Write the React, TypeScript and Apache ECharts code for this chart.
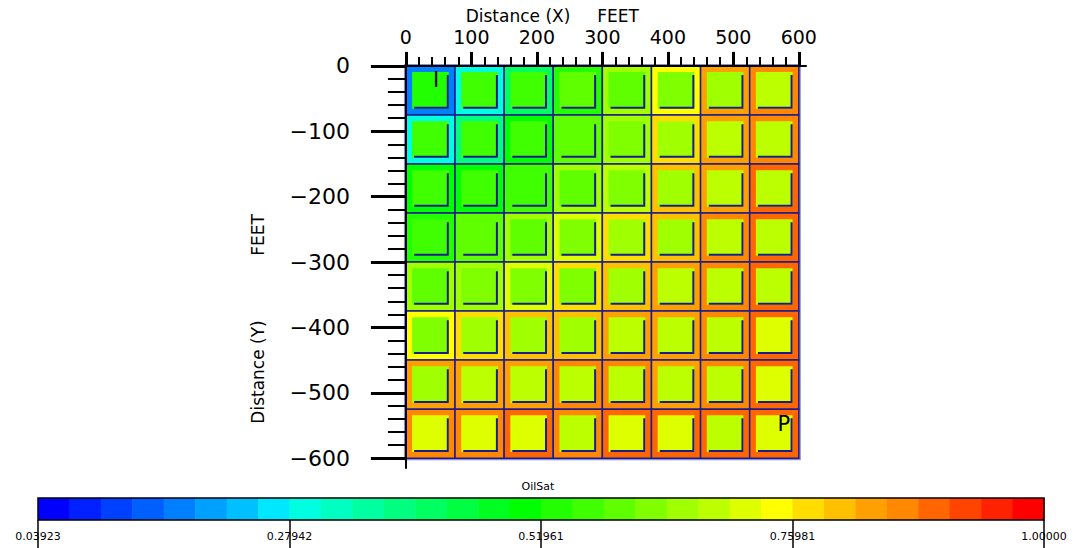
import React, { useEffect, useRef } from "react";
import * as echarts from "echarts";

// ---- data ----
const cellSize = 75; // feet per cell
const xMajorTicks = [0, 100, 200, 300, 400, 500, 600];
const yMajorTicks = [0, -100, -200, -300, -400, -500, -600];
const colorbarTicks = [0.03923, 0.27942, 0.51961, 0.75981, 1.0];
const colorbarLabels = ["0.03923", "0.27942", "0.51961", "0.75981", "1.00000"];
const valueMin = 0.03923;
const valueMax = 1.0;

// cell (outer) values, rows top (y=0) to bottom (y=-600), cols left to right
const outerValues = [
  [0.17, 0.30, 0.41, 0.53, 0.65, 0.74, 0.83, 0.86],
  [0.29, 0.38, 0.50, 0.59, 0.65, 0.77, 0.83, 0.86],
  [0.50, 0.49, 0.56, 0.65, 0.69, 0.80, 0.83, 0.89],
  [0.53, 0.59, 0.65, 0.72, 0.77, 0.80, 0.86, 0.89],
  [0.65, 0.66, 0.71, 0.77, 0.80, 0.83, 0.86, 0.89],
  [0.74, 0.77, 0.80, 0.81, 0.83, 0.84, 0.86, 0.89],
  [0.83, 0.84, 0.84, 0.86, 0.85, 0.84, 0.87, 0.89],
  [0.86, 0.87, 0.89, 0.87, 0.88, 0.89, 0.89, 0.90],
];
// inner square values
const innerValues = [
  [0.53, 0.56, 0.57, 0.59, 0.60, 0.62, 0.65, 0.68],
  [0.56, 0.57, 0.57, 0.59, 0.62, 0.65, 0.68, 0.68],
  [0.56, 0.57, 0.57, 0.59, 0.62, 0.65, 0.68, 0.68],
  [0.57, 0.59, 0.60, 0.62, 0.65, 0.65, 0.68, 0.68],
  [0.59, 0.62, 0.62, 0.62, 0.65, 0.68, 0.68, 0.68],
  [0.62, 0.65, 0.65, 0.65, 0.68, 0.68, 0.68, 0.71],
  [0.65, 0.68, 0.68, 0.68, 0.68, 0.68, 0.68, 0.71],
  [0.71, 0.71, 0.71, 0.68, 0.71, 0.71, 0.68, 0.71],
];
// well markers
const wellNames = ["I", "P"];
const wellX = [46, 577];
const wellY = [-22, -547];

// ---- styles ----
const palette = [
  "#0000ff", "#0020ff", "#0040ff", "#0060ff", "#0080ff", "#00a0ff", "#00c0ff", "#00e8ff",
  "#00ffe0", "#00ffc0", "#00ffa0", "#00ff80", "#00ff60", "#00ff40", "#00ff20", "#00ff00",
  "#22ff00", "#40ff00", "#60ff00", "#80ff00", "#a0ff00", "#bbff00", "#ddff00", "#ffff00",
  "#ffdd00", "#ffc000", "#ffa000", "#ff8800", "#ff6600", "#ff4400", "#ff2200", "#ff0000",
];
const FONT = "'DejaVu Sans', sans-serif";
const NAVY = "#1c1c8c";

function colorOf(v: number) {
  const i = Math.floor(((v - valueMin) / (valueMax - valueMin)) * palette.length);
  return palette[Math.max(0, Math.min(palette.length - 1, i))];
}

const xMinorTicks: number[] = [];
for (let v = 0; v <= 600; v += 20) if (v % 100 !== 0) xMinorTicks.push(v);
const yMinorTicks: number[] = [];
for (let v = 0; v >= -600; v -= 20) if (v % 100 !== 0) yMinorTicks.push(v);

export default function App() {
  const ref = useRef<HTMLDivElement>(null);
  useEffect(() => {
    if (!ref.current) return;
    const chart = echarts.init(ref.current, null, { renderer: "svg" });

    const cellData: number[][] = [];
    for (let r = 0; r < outerValues.length; r++)
      for (let c = 0; c < outerValues[r].length; c++)
        cellData.push([c, r, outerValues[r][c], innerValues[r][c]]);

    const wellData = wellNames.map((n, i) => [wellX[i], wellY[i], i]);
    const segData = palette.map((_, i) => [i]);

    const xRange = { min: -7.5, max: 611 };
    const yRange = { min: -615, max: 7.5 };

    chart.setOption({
      animation: false,
      backgroundColor: "#ffffff",
      grid: [
        { left: 401, top: 61, width: 405, height: 407 },
        { left: 38, top: 498, width: 1006, height: 22 },
      ],
      xAxis: [
        {
          gridIndex: 0, type: "value", position: "top", ...xRange, z: 10,
          axisLine: { show: true, lineStyle: { color: "#000", width: 2 } },
          axisTick: { show: true, customValues: xMajorTicks, length: 14, lineStyle: { color: "#000", width: 3 } },
          axisLabel: { show: true, customValues: xMajorTicks, margin: 15, fontSize: 19, fontFamily: FONT, color: "#000" },
          splitLine: { show: false },
        },
        {
          gridIndex: 0, type: "value", position: "top", ...xRange, z: 10,
          axisLine: { show: false },
          axisTick: { show: true, customValues: xMinorTicks, length: 9, lineStyle: { color: "#000", width: 2 } },
          axisLabel: { show: false },
          splitLine: { show: false },
        },
        {
          gridIndex: 1, type: "value", position: "top", min: valueMin, max: valueMax, z: 10,
          axisLine: { show: false },
          axisTick: { show: true, inside: true, customValues: colorbarTicks, length: 33, lineStyle: { color: "#000", width: 1.5 } },
          axisLabel: {
            show: true, inside: true, customValues: colorbarTicks, margin: 33, fontSize: 11,
            fontFamily: FONT, color: "#000",
            formatter: (v: number) => {
              const k = colorbarTicks.findIndex((t) => Math.abs(t - v) < 1e-6);
              return k >= 0 ? colorbarLabels[k] : "";
            },
          },
          splitLine: { show: false },
        },
      ],
      yAxis: [
        {
          gridIndex: 0, type: "value", position: "left", ...yRange, z: 10,
          axisLine: { show: true, lineStyle: { color: "#000", width: 2 } },
          axisTick: { show: true, customValues: yMajorTicks, length: 35, lineStyle: { color: "#000", width: 3 } },
          axisLabel: {
            show: true, customValues: yMajorTicks, margin: 51, fontSize: 22, fontFamily: FONT, color: "#000",
            formatter: (v: number) => (v < 0 ? "\u2212" + Math.abs(v) : String(v)),
          },
          splitLine: { show: false },
        },
        {
          gridIndex: 0, type: "value", position: "left", ...yRange, z: 10,
          axisLine: { show: false },
          axisTick: { show: true, customValues: yMinorTicks, length: 18, lineStyle: { color: "#000", width: 2 } },
          axisLabel: { show: false },
          splitLine: { show: false },
        },
        { gridIndex: 1, type: "value", min: 0, max: 1, show: false },
      ],
      series: [
        {
          type: "custom", xAxisIndex: 0, yAxisIndex: 0, data: [[0]],
          renderItem: (_p: any, api: any) => {
            const a = api.coord([0, 0]);
            const b = api.coord([8 * cellSize, -8 * cellSize]);
            return {
              type: "rect",
              shape: { x: a[0] - 1, y: a[1] - 1, width: b[0] - a[0] + 2, height: b[1] - a[1] + 2 },
              style: { fill: "none", stroke: "#8a8ad8", lineWidth: 2 },
            };
          },
        },
        {
          type: "custom", xAxisIndex: 0, yAxisIndex: 0, data: cellData,
          renderItem: (_p: any, api: any) => {
            const c = api.value(0), r = api.value(1);
            const ov = api.value(2), iv = api.value(3);
            const x0 = c * cellSize, x1 = x0 + cellSize;
            const y0 = -r * cellSize, y1 = y0 - cellSize;
            const a = api.coord([x0, y0]);
            const b = api.coord([x1, y1]);
            const ia = api.coord([x0 + 9.5, y0 - 9.5]);
            const ib = api.coord([x1 - 9.5, y1 + 9.5]);
            return {
              type: "group",
              children: [
                {
                  type: "rect",
                  shape: { x: a[0], y: a[1], width: b[0] - a[0], height: b[1] - a[1] },
                  style: { fill: colorOf(ov), stroke: NAVY, lineWidth: 1.5 },
                },
                {
                  type: "rect",
                  shape: { x: ia[0], y: ia[1], width: ib[0] - ia[0], height: ib[1] - ia[1] },
                  style: { fill: colorOf(iv) },
                },
                {
                  type: "polyline",
                  shape: { points: [[ia[0] + 2, ib[1] - 1], [ib[0] - 1, ib[1] - 1], [ib[0] - 1, ia[1] + 3]] },
                  style: { fill: "none", stroke: NAVY, lineWidth: 2 },
                },
              ],
            };
          },
        },
        {
          type: "custom", xAxisIndex: 0, yAxisIndex: 0, data: wellData, z: 5,
          renderItem: (_p: any, api: any) => {
            const p = api.coord([api.value(0), api.value(1)]);
            return {
              type: "text",
              x: p[0], y: p[1],
              style: {
                text: wellNames[api.value(2)], fill: "#000", fontSize: 21, fontFamily: FONT,
                align: "center", verticalAlign: "middle",
              },
            };
          },
        },
        {
          type: "custom", xAxisIndex: 2, yAxisIndex: 2, data: segData,
          renderItem: (_p: any, api: any) => {
            const i = api.value(0);
            const step = (valueMax - valueMin) / palette.length;
            const lo = valueMin + i * step, hi = lo + step;
            const a = api.coord([lo, 1]);
            const b = api.coord([hi, 0]);
            return {
              type: "rect",
              shape: { x: a[0], y: a[1], width: b[0] - a[0] + 0.5, height: b[1] - a[1] },
              style: { fill: palette[i] },
            };
          },
        },
        {
          type: "custom", xAxisIndex: 2, yAxisIndex: 2, data: [[0]], z: 4,
          renderItem: (_p: any, api: any) => {
            const a = api.coord([valueMin, 1]);
            const b = api.coord([valueMax, 0]);
            return {
              type: "rect",
              shape: { x: a[0], y: a[1], width: b[0] - a[0], height: b[1] - a[1] },
              style: { fill: "none", stroke: "#000", lineWidth: 1.5 },
            };
          },
        },
      ],
      graphic: [
        { type: "text", x: 518, y: 16, style: { text: "Distance (X)", fontSize: 17, fontFamily: FONT, fill: "#000", align: "center", verticalAlign: "middle" } },
        { type: "text", x: 618, y: 16, style: { text: "FEET", fontSize: 17, fontFamily: FONT, fill: "#000", align: "center", verticalAlign: "middle" } },
        { type: "text", x: 258, y: 372, rotation: Math.PI / 2, style: { text: "Distance (Y)", fontSize: 17, fontFamily: FONT, fill: "#000", align: "center", verticalAlign: "middle" } },
        { type: "text", x: 258, y: 235, rotation: Math.PI / 2, style: { text: "FEET", fontSize: 17, fontFamily: FONT, fill: "#000", align: "center", verticalAlign: "middle" } },
        { type: "text", x: 538, y: 486, style: { text: "OilSat", fontSize: 11, fontFamily: FONT, fill: "#000", align: "center", verticalAlign: "middle" } },
      ],
    });
    return () => chart.dispose();
  }, []);
  return <div ref={ref} style={{ position: "fixed", left: 0, top: 0, width: 1077, height: 548 }} />;
}
